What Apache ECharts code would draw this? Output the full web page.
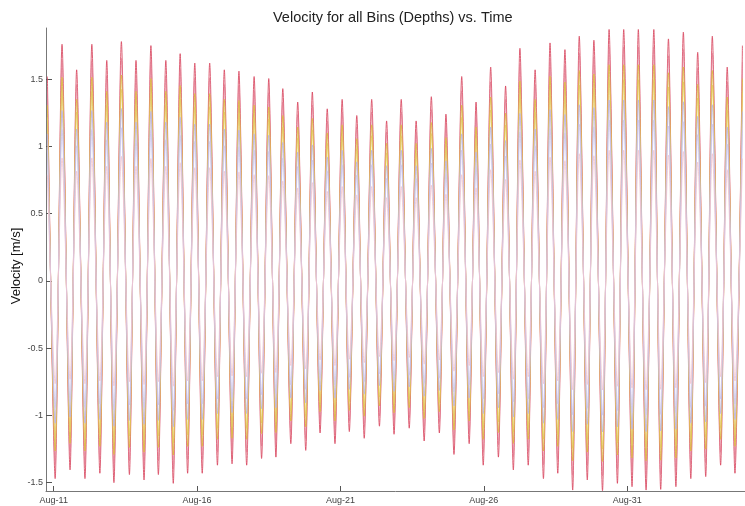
<!DOCTYPE html>
<html>
<head>
<meta charset="utf-8">
<script src="https://cdn.jsdelivr.net/npm/echarts@6/dist/echarts.min.js"></script>
<style>html,body{margin:0;padding:0;background:#fff}#c{width:745px;height:506px}</style>
</head>
<body>
<div id="c"></div>
<script>
// Time in days since Aug-11 00:00
const peakDays = [-0.22,0.29,0.80,1.33,1.85,2.36,2.87,3.39,3.91,4.41,4.92,5.44,5.95,6.46,6.99,7.50,7.99,8.51,9.02,9.54,10.06,10.57,11.09,11.61,12.12,12.64,13.17,13.68,14.23,14.73,15.24,15.76,16.26,16.79,17.31,17.83,18.33,18.84,19.37,19.88,20.39,20.93,21.44,21.96,22.46,22.97,23.49,24.02];
const peakVals = [1.52,1.76,1.57,1.76,1.64,1.78,1.64,1.75,1.64,1.69,1.62,1.62,1.57,1.56,1.52,1.505,1.43,1.33,1.405,1.28,1.35,1.23,1.35,1.19,1.35,1.19,1.37,1.24,1.52,1.33,1.59,1.45,1.73,1.57,1.77,1.72,1.82,1.79,1.87,1.87,1.87,1.87,1.80,1.85,1.70,1.82,1.59,1.75];
const troughDays = [0.05,0.57,1.09,1.61,2.10,2.64,3.15,3.65,4.17,4.67,5.18,5.71,6.22,6.73,7.25,7.75,8.27,8.79,9.29,9.81,10.31,10.83,11.36,11.87,12.40,12.92,13.45,13.96,14.49,14.98,15.51,16.03,16.55,17.08,17.58,18.10,18.61,19.14,19.66,20.17,20.66,21.17,21.70,22.22,22.74,23.26,23.76];
const troughVals = [-1.47,-1.405,-1.47,-1.43,-1.50,-1.44,-1.48,-1.44,-1.505,-1.43,-1.43,-1.37,-1.36,-1.37,-1.32,-1.31,-1.21,-1.26,-1.13,-1.21,-1.12,-1.17,-1.08,-1.14,-1.095,-1.19,-1.13,-1.29,-1.21,-1.37,-1.31,-1.405,-1.37,-1.47,-1.43,-1.555,-1.48,-1.56,-1.505,-1.53,-1.555,-1.55,-1.53,-1.47,-1.455,-1.37,-1.43];
// relative amplitude of each depth bin (surface -> deep)
const binScale = [1.0,0.93,0.86,0.80,0.72,0.64,0.52];
const binNames = ['Bin 1','Bin 2','Bin 3','Bin 4','Bin 5','Bin 6','Bin 7'];
const xTickDays = [0,5,10,15,20];
const xTickLabels = ['Aug-11','Aug-16','Aug-21','Aug-26','Aug-31'];
const yTickVals = [-1.5,-1,-0.5,0,0.5,1,1.5];
const yTickLabels = ['-1.5','-1','-0.5','0','0.5','1','1.5'];

const binColors = ['#d8465f','#e27a90','#dcbc3c','#e4c95e','#bab3e6','#cbc5ef','#f1c3cd'];
const binOpacity = [0.85,0.8,0.85,0.85,0.85,0.85,0.8];

const surface = [];
peakDays.forEach((d,i)=>surface.push([d,peakVals[i]]));
troughDays.forEach((d,i)=>surface.push([d,troughVals[i]]));
surface.sort((a,b)=>a[0]-b[0]);

const series = binScale.map((s,k)=>({
  name: binNames[k],
  type: 'line',
  showSymbol: false,
  animation: false,
  smooth: 0.25,
  lineStyle: {width: 1, color: binColors[k], opacity: binOpacity[k]},
  data: surface.map(p=>[p[0], +(p[1]*s).toFixed(3)]),
  z: 2 + k
}));

const chart = echarts.init(document.getElementById('c'), null, {renderer:'canvas'});
chart.setOption({
  backgroundColor: '#fff',
  animation: false,
  title: {
    text: 'Velocity for all Bins (Depths) vs. Time',
    left: 268, top: 5,
    textStyle: {fontFamily: 'Liberation Sans', fontSize: 14.5, fontWeight: 'normal', color: '#222'}
  },
  graphic: [{
    type: 'text', x: 16, y: 266, rotation: Math.PI/2,
    style: {text: 'Velocity [m/s]', fontFamily: 'Liberation Sans', fontSize: 13, fill: '#111', align: 'center', verticalAlign: 'middle'}
  }],
  grid: {left: 46, right: 0, top: 28, bottom: 15},
  xAxis: {
    type: 'value', min: -0.269, max: 24.11,
    splitLine: {show: false},
    axisLine: {onZero: false, lineStyle: {color: '#777', width: 1}},
    axisTick: {inside: true, length: 5, customValues: xTickDays, lineStyle: {color: '#555'}},
    axisLabel: {customValues: xTickDays, margin: 5, fontFamily: 'Liberation Sans', fontSize: 9, color: '#444',
      formatter: v => xTickLabels[xTickDays.indexOf(v)] || ''}
  },
  yAxis: {
    type: 'value', min: -1.562, max: 1.881,
    splitLine: {show: false},
    axisLine: {show: true, onZero: false, lineStyle: {color: '#777', width: 1}},
    axisTick: {show: true, inside: true, length: 6, customValues: yTickVals, lineStyle: {color: '#555'}},
    axisLabel: {customValues: yTickVals, margin: 3, fontFamily: 'Liberation Sans', fontSize: 9, color: '#444',
      formatter: v => { const i = yTickVals.findIndex(t=>Math.abs(t-v)<1e-6); return i>=0 ? yTickLabels[i] : ''; }}
  },
  series: series
});
</script>
</body>
</html>
